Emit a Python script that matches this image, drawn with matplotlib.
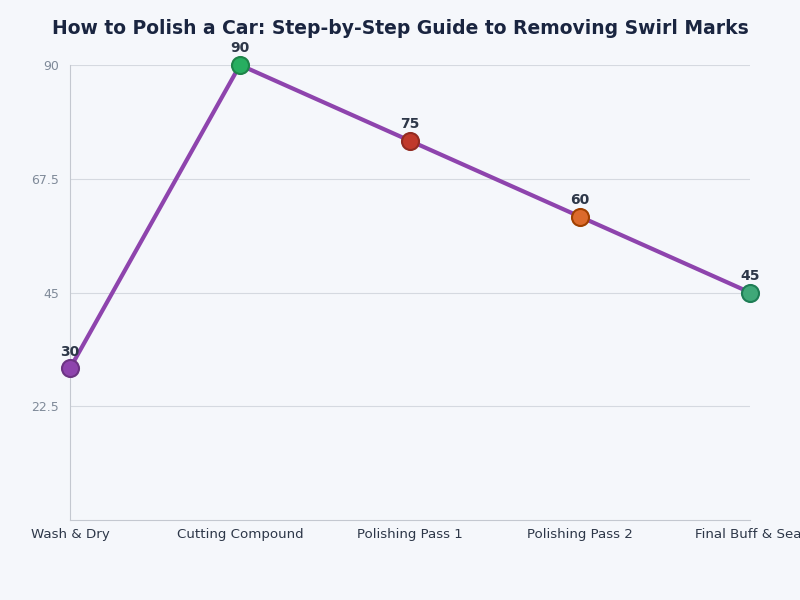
import matplotlib
matplotlib.use("Agg")
import matplotlib.pyplot as plt

steps = ["Wash & Dry", "Cutting Compound", "Polishing Pass 1", "Polishing Pass 2", "Final Buff & Seal"]
values = [30, 90, 75, 60, 45]
marker_colors = ["#8e44ad", "#27ae60", "#c0392b", "#dc6a2c", "#3fa878"]
edge_colors = ["#6c3483", "#1e8449", "#922b21", "#a04000", "#1e7d55"]
yticks = [22.5, 45, 67.5, 90]
ytick_labels = ["22.5", "45", "67.5", "90"]

bg = "#f5f7fb"
fig = plt.figure(figsize=(8, 6), dpi=100, facecolor=bg)
ax = fig.add_axes([0.0875, 0.1333, 0.85, 0.7584])
ax.set_facecolor(bg)

x = list(range(len(steps)))
ax.plot(x, values, color="#8e44ad", linewidth=3, zorder=2, clip_on=False)
for xi, v, c, ec in zip(x, values, marker_colors, edge_colors):
    ax.scatter(xi, v, s=150, color=c, edgecolors=ec, linewidths=1.5, zorder=3, clip_on=False)
    ax.annotate(str(v), (xi, v), xytext=(0, 7), textcoords="offset points",
                ha="center", va="bottom", fontsize=10, fontweight="bold", color="#2d3748")

ax.set_xlim(0, len(steps) - 1)
ax.set_ylim(0, 90)
ax.set_xticks(x)
ax.set_xticklabels(steps, fontsize=9.6, color="#2d3748")
ax.set_yticks(yticks)
ax.set_yticklabels(ytick_labels, fontsize=9, color="#7f8a99")
ax.tick_params(axis="x", length=0, pad=6)
ax.tick_params(axis="y", length=0, pad=8)
ax.grid(axis="y", color="#d5d9e0", linewidth=0.8)
ax.set_axisbelow(True)
for side in ["top", "right"]:
    ax.spines[side].set_visible(False)
for side in ["left", "bottom"]:
    ax.spines[side].set_color("#c4c8d0")

fig.text(0.5, 0.953, "How to Polish a Car: Step-by-Step Guide to Removing Swirl Marks",
         ha="center", va="center", fontsize=13.5, fontweight="bold", color="#1a2540")

fig.savefig("out.png", facecolor=bg)
